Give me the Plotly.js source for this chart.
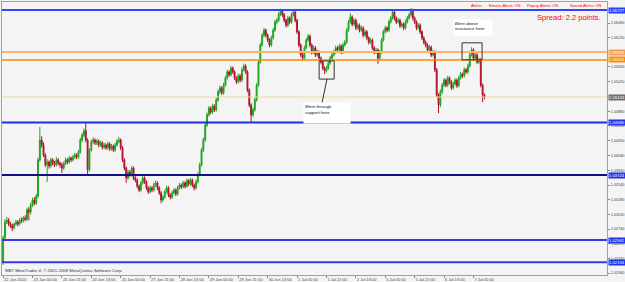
<!DOCTYPE html>
<html><head><meta charset="utf-8">
<script src="https://cdn.plot.ly/plotly-3.0.1.min.js"></script>
<style>html,body{margin:0;padding:0;background:#f4f4f4;}#chart{width:625px;height:282px;}</style>
</head><body><div id="chart"></div>
<script>
// Hourly bars, 22 Jun 2010 13:00 .. 7 Jul 2010
const openPrices = [1.0214,
1.0258,1.0287,1.0290,1.0283,1.0280,1.0276,1.0283,1.0287,1.0283,1.0290,
1.0289,1.0294,1.0292,1.0309,1.0305,1.0318,1.0327,1.0321,1.0334,1.0400,
1.0436,1.0427,1.0409,1.0391,1.0396,1.0389,1.0400,1.0394,1.0391,1.0400,
1.0394,1.0391,1.0385,1.0393,1.0400,1.0396,1.0403,1.0400,1.0405,1.0409,
1.0405,1.0414,1.0436,1.0445,1.0453,1.0436,1.0382,1.0418,1.0433,1.0436,
1.0431,1.0434,1.0427,1.0431,1.0423,1.0427,1.0422,1.0429,1.0420,1.0425,
1.0418,1.0427,1.0434,1.0436,1.0422,1.0400,1.0385,1.0367,1.0378,1.0373,
1.0385,1.0367,1.0363,1.0352,1.0345,1.0358,1.0367,1.0360,1.0349,1.0342,
1.0349,1.0345,1.0354,1.0358,1.0349,1.0340,1.0327,1.0332,1.0342,1.0349,
1.0336,1.0332,1.0340,1.0345,1.0338,1.0349,1.0354,1.0351,1.0358,1.0352,
1.0362,1.0356,1.0363,1.0354,1.0349,1.0360,1.0373,1.0391,1.0418,1.0436,
1.0463,1.0482,1.0494,1.0487,1.0498,1.0491,1.0509,1.0524,1.0531,1.0522,
1.0536,1.0549,1.0560,1.0555,1.0567,1.0560,1.0549,1.0542,1.0553,1.0545,
1.0564,1.0571,1.0560,1.0527,1.0500,1.0482,1.0491,1.0509,1.0536,1.0578,
1.0609,1.0627,1.0636,1.0627,1.0618,1.0609,1.0622,1.0636,1.0651,1.0654,
1.0665,1.0671,1.0664,1.0654,1.0645,1.0658,1.0651,1.0664,1.0669,1.0654,
1.0633,1.0609,1.0591,1.0585,1.0604,1.0618,1.0625,1.0609,1.0596,1.0604,
1.0591,1.0596,1.0585,1.0578,1.0567,1.0562,1.0567,1.0576,1.0585,1.0591,
1.0596,1.0604,1.0600,1.0607,1.0596,1.0609,1.0614,1.0636,1.0651,1.0660,
1.0647,1.0654,1.0640,1.0645,1.0636,1.0640,1.0627,1.0633,1.0622,1.0614,
1.0618,1.0604,1.0596,1.0600,1.0585,1.0596,1.0618,1.0633,1.0640,1.0636,
1.0651,1.0658,1.0669,1.0658,1.0651,1.0654,1.0644,1.0647,1.0640,1.0651,
1.0658,1.0664,1.0673,1.0658,1.0651,1.0640,1.0645,1.0633,1.0622,1.0614,
1.0609,1.0600,1.0605,1.0591,1.0596,1.0564,1.0518,1.0500,1.0524,1.0536,
1.0545,1.0536,1.0549,1.0542,1.0531,1.0538,1.0545,1.0535,1.0549,1.0556,
1.0553,1.0564,1.0560,1.0571,1.0591,1.0600,1.0585,1.0591,1.0578,1.0582,
1.0536,1.0518];
const closePrices = [
1.0258,1.0287,1.0290,1.0283,1.0280,1.0276,1.0283,1.0287,1.0283,1.0290,
1.0289,1.0294,1.0292,1.0309,1.0305,1.0318,1.0327,1.0321,1.0334,1.0400,
1.0436,1.0427,1.0409,1.0391,1.0396,1.0389,1.0400,1.0394,1.0391,1.0400,
1.0394,1.0391,1.0385,1.0393,1.0400,1.0396,1.0403,1.0400,1.0405,1.0409,
1.0405,1.0414,1.0436,1.0445,1.0453,1.0436,1.0382,1.0418,1.0433,1.0436,
1.0431,1.0434,1.0427,1.0431,1.0423,1.0427,1.0422,1.0429,1.0420,1.0425,
1.0418,1.0427,1.0434,1.0436,1.0422,1.0400,1.0385,1.0367,1.0378,1.0373,
1.0385,1.0367,1.0363,1.0352,1.0345,1.0358,1.0367,1.0360,1.0349,1.0342,
1.0349,1.0345,1.0354,1.0358,1.0349,1.0340,1.0327,1.0332,1.0342,1.0349,
1.0336,1.0332,1.0340,1.0345,1.0338,1.0349,1.0354,1.0351,1.0358,1.0352,
1.0362,1.0356,1.0363,1.0354,1.0349,1.0360,1.0373,1.0391,1.0418,1.0436,
1.0463,1.0482,1.0494,1.0487,1.0498,1.0491,1.0509,1.0524,1.0531,1.0522,
1.0536,1.0549,1.0560,1.0555,1.0567,1.0560,1.0549,1.0542,1.0553,1.0545,
1.0564,1.0571,1.0560,1.0527,1.0500,1.0482,1.0491,1.0509,1.0536,1.0578,
1.0609,1.0627,1.0636,1.0627,1.0618,1.0609,1.0622,1.0636,1.0651,1.0654,
1.0665,1.0671,1.0664,1.0654,1.0645,1.0658,1.0651,1.0664,1.0669,1.0654,
1.0633,1.0609,1.0591,1.0585,1.0604,1.0618,1.0625,1.0609,1.0596,1.0604,
1.0591,1.0596,1.0585,1.0578,1.0567,1.0562,1.0567,1.0576,1.0585,1.0591,
1.0596,1.0604,1.0600,1.0607,1.0596,1.0609,1.0614,1.0636,1.0651,1.0660,
1.0647,1.0654,1.0640,1.0645,1.0636,1.0640,1.0627,1.0633,1.0622,1.0614,
1.0618,1.0604,1.0596,1.0600,1.0585,1.0596,1.0618,1.0633,1.0640,1.0636,
1.0651,1.0658,1.0669,1.0658,1.0651,1.0654,1.0644,1.0647,1.0640,1.0651,
1.0658,1.0664,1.0673,1.0658,1.0651,1.0640,1.0645,1.0633,1.0622,1.0614,
1.0609,1.0600,1.0605,1.0591,1.0596,1.0564,1.0518,1.0500,1.0524,1.0536,
1.0545,1.0536,1.0549,1.0542,1.0531,1.0538,1.0545,1.0535,1.0549,1.0556,
1.0553,1.0564,1.0560,1.0571,1.0591,1.0600,1.0585,1.0591,1.0578,1.0582,
1.0536,1.0518,1.0514];
const highPrices = [
1.0262,1.0292,1.0296,1.0294,1.0287,1.0284,1.0286,1.0291,1.0290,1.0294,
1.0295,1.0298,1.0299,1.0313,1.0314,1.0322,1.0331,1.0332,1.0338,1.0404,
1.0460,1.0443,1.0432,1.0412,1.0401,1.0399,1.0404,1.0403,1.0398,1.0405,
1.0403,1.0397,1.0395,1.0397,1.0404,1.0403,1.0407,1.0406,1.0409,1.0413,
1.0412,1.0418,1.0440,1.0449,1.0457,1.0467,1.0439,1.0421,1.0437,1.0441,
1.0439,1.0438,1.0437,1.0435,1.0434,1.0431,1.0430,1.0433,1.0432,1.0429,
1.0428,1.0431,1.0438,1.0442,1.0439,1.0425,1.0403,1.0388,1.0382,1.0381,
1.0389,1.0388,1.0370,1.0366,1.0355,1.0362,1.0371,1.0370,1.0363,1.0352,
1.0353,1.0352,1.0358,1.0362,1.0361,1.0352,1.0343,1.0336,1.0346,1.0353,
1.0352,1.0339,1.0344,1.0349,1.0348,1.0353,1.0358,1.0357,1.0362,1.0361,
1.0366,1.0365,1.0367,1.0366,1.0357,1.0364,1.0377,1.0395,1.0422,1.0440,
1.0467,1.0486,1.0498,1.0497,1.0502,1.0501,1.0513,1.0528,1.0535,1.0534,
1.0540,1.0553,1.0564,1.0563,1.0571,1.0570,1.0563,1.0552,1.0557,1.0556,
1.0568,1.0575,1.0574,1.0563,1.0530,1.0503,1.0495,1.0513,1.0540,1.0582,
1.0613,1.0631,1.0640,1.0639,1.0630,1.0621,1.0626,1.0640,1.0655,1.0658,
1.0669,1.0675,1.0674,1.0667,1.0657,1.0662,1.0661,1.0668,1.0673,1.0672,
1.0657,1.0636,1.0612,1.0595,1.0608,1.0622,1.0629,1.0628,1.0612,1.0608,
1.0607,1.0600,1.0599,1.0588,1.0581,1.0570,1.0571,1.0580,1.0589,1.0595,
1.0600,1.0608,1.0607,1.0611,1.0610,1.0613,1.0618,1.0640,1.0655,1.0667,
1.0663,1.0658,1.0657,1.0649,1.0648,1.0644,1.0643,1.0637,1.0636,1.0625,
1.0622,1.0621,1.0607,1.0604,1.0603,1.0600,1.0622,1.0637,1.0644,1.0643,
1.0655,1.0662,1.0673,1.0672,1.0661,1.0658,1.0657,1.0651,1.0650,1.0655,
1.0662,1.0668,1.0676,1.0675,1.0661,1.0654,1.0649,1.0648,1.0636,1.0625,
1.0617,1.0612,1.0609,1.0608,1.0600,1.0599,1.0567,1.0521,1.0528,1.0540,
1.0549,1.0548,1.0553,1.0552,1.0545,1.0542,1.0549,1.0548,1.0553,1.0560,
1.0559,1.0568,1.0567,1.0575,1.0595,1.0605,1.0603,1.0595,1.0594,1.0586,
1.0585,1.0539,1.0521];
const lowPrices = [
1.0209,1.0254,1.0283,1.0279,1.0276,1.0270,1.0273,1.0280,1.0279,1.0281,
1.0285,1.0286,1.0288,1.0289,1.0290,1.0301,1.0314,1.0317,1.0318,1.0330,
1.0396,1.0422,1.0405,1.0387,1.0360,1.0384,1.0386,1.0390,1.0387,1.0388,
1.0390,1.0386,1.0376,1.0382,1.0390,1.0392,1.0393,1.0396,1.0397,1.0402,
1.0401,1.0402,1.0411,1.0432,1.0441,1.0432,1.0374,1.0379,1.0415,1.0429,
1.0427,1.0427,1.0423,1.0424,1.0419,1.0420,1.0418,1.0419,1.0416,1.0417,
1.0414,1.0415,1.0424,1.0430,1.0418,1.0396,1.0381,1.0358,1.0364,1.0369,
1.0370,1.0363,1.0359,1.0348,1.0341,1.0342,1.0355,1.0356,1.0345,1.0338,
1.0339,1.0341,1.0342,1.0351,1.0345,1.0336,1.0321,1.0324,1.0329,1.0339,
1.0332,1.0328,1.0329,1.0337,1.0334,1.0335,1.0346,1.0347,1.0348,1.0348,
1.0349,1.0352,1.0353,1.0350,1.0344,1.0346,1.0357,1.0370,1.0388,1.0414,
1.0433,1.0460,1.0479,1.0483,1.0484,1.0487,1.0488,1.0506,1.0520,1.0518,
1.0519,1.0533,1.0546,1.0551,1.0552,1.0556,1.0545,1.0538,1.0539,1.0541,
1.0542,1.0561,1.0556,1.0523,1.0496,1.0469,1.0478,1.0488,1.0506,1.0533,
1.0575,1.0606,1.0623,1.0623,1.0614,1.0605,1.0606,1.0619,1.0633,1.0647,
1.0651,1.0662,1.0660,1.0650,1.0641,1.0642,1.0647,1.0648,1.0661,1.0650,
1.0629,1.0605,1.0587,1.0580,1.0582,1.0601,1.0615,1.0605,1.0592,1.0593,
1.0587,1.0588,1.0581,1.0574,1.0563,1.0556,1.0559,1.0564,1.0573,1.0582,
1.0588,1.0593,1.0596,1.0597,1.0592,1.0593,1.0606,1.0611,1.0633,1.0648,
1.0643,1.0644,1.0636,1.0637,1.0632,1.0633,1.0623,1.0624,1.0618,1.0610,
1.0611,1.0600,1.0592,1.0593,1.0575,1.0582,1.0593,1.0615,1.0630,1.0632,
1.0633,1.0648,1.0655,1.0654,1.0647,1.0648,1.0640,1.0641,1.0636,1.0637,
1.0648,1.0655,1.0661,1.0654,1.0647,1.0636,1.0637,1.0629,1.0618,1.0610,
1.0605,1.0596,1.0597,1.0587,1.0588,1.0560,1.0514,1.0485,1.0496,1.0520,
1.0533,1.0532,1.0533,1.0538,1.0527,1.0528,1.0535,1.0531,1.0532,1.0546,
1.0549,1.0550,1.0556,1.0557,1.0568,1.0588,1.0581,1.0582,1.0574,1.0575,
1.0532,1.0505,1.0510];

const timeTickBars = [0,16,32,48,64,80,96,112,128,144,160,176,192,208,224,240,256];
const timeTickLabels = ['22 Jun 2010','23 Jun 05:00','23 Jun 21:00','24 Jun 13:00','25 Jun 05:00',
  '27 Jun 21:00','28 Jun 13:00','29 Jun 05:00','29 Jun 21:00','30 Jun 13:00','1 Jul 05:00',
  '1 Jul 21:00','2 Jul 13:00','5 Jul 05:00','5 Jul 21:00','6 Jul 13:00','7 Jul 05:00'];
const priceTicks = [1.0194,1.0220,1.0247,1.0274,1.0301,1.0328,1.0354,1.0381,1.0408,1.0435,
  1.0462,1.0488,1.0542,1.0569,1.0622,1.0649];
const priceTickLabels = ['1.01940','1.02200','1.02470','1.02740','1.03010','1.03280','1.03540','1.03810',
  '1.04080','1.04350','1.04620','1.04880','1.05420','1.05690','1.06220','1.06490'];

// horizontal levels drawn on the chart
const levelPrices = [1.06727, 1.05963, 1.05818, 1.04680, 1.03724, 1.02541, 1.02134];
const levelColors = ['#3344ff','#ffb366','#ff8a00','#1f2fe0','#10108a','#3838ea','#3838ea'];
const levelLabelBg = ['#2b3bff','#f5a04e','#ff8a00','#2233ee','#2233ee','#2233ee','#2233ee'];
const levelWidths = [2, 2.2, 1.6, 1.8, 1.8, 2, 2];
const bidPrice = 1.05143;

const barIndex = openPrices.map((_, i) => i);

const trace = {
  type: 'candlestick', x: barIndex,
  open: openPrices, high: highPrices, low: lowPrices, close: closePrices,
  increasing: {line: {color: '#1fa51f', width: 1}, fillcolor: '#1fa51f'},
  decreasing: {line: {color: '#b0122c', width: 1}, fillcolor: '#b0122c'},
  whiskerwidth: 0, hoverinfo: 'none'
};

const fontFam = 'Liberation Sans, Arial, sans-serif';
const shapes = [];
const annotations = [];
levelPrices.forEach((p, k) => {
  shapes.push({type: 'line', xref: 'paper', x0: 0, x1: 1, yref: 'y', y0: p, y1: p,
    line: {color: levelColors[k], width: levelWidths[k]}});
  annotations.push({xref: 'paper', x: 1, xanchor: 'left', xshift: 1, yref: 'y', y: p,
    text: p.toFixed(5), showarrow: false, bgcolor: levelLabelBg[k], borderpad: 0,
    font: {size: 4.2, color: '#ffffff', family: fontFam}});
});
shapes.push({type: 'line', xref: 'paper', x0: 0, x1: 1, yref: 'y', y0: bidPrice, y1: bidPrice,
  line: {color: '#f0dc86', width: 1}});
annotations.push({xref: 'paper', x: 1, xanchor: 'left', xshift: 1, yref: 'y', y: bidPrice,
  text: bidPrice.toFixed(5), showarrow: false, bgcolor: '#6e6e6e', borderpad: 0,
  font: {size: 4.2, color: '#ffffff', family: fontFam}});

// marked regions
shapes.push({type: 'rect', xref: 'x', yref: 'y', x0: 172, x1: 180.2, y0: 1.0547, y1: 1.0580,
  line: {color: '#333333', width: 1}});
shapes.push({type: 'line', xref: 'x', yref: 'y', x0: 176.3, y0: 1.0547, x1: 173.6, y1: 1.0504,
  line: {color: '#333333', width: 1}});
shapes.push({type: 'rect', xref: 'x', yref: 'y', x0: 249.8, x1: 260.7, y0: 1.0582, y1: 1.0613,
  line: {color: '#333333', width: 1}});

const px = v => (v - 2) / 605;
const py = v => (275 - v) / 273;
annotations.push({xref: 'paper', yref: 'paper', x: px(303), y: py(102), xanchor: 'left', yanchor: 'top',
  width: 44, height: 18, align: 'left', valign: 'top', bgcolor: '#ffffff', borderpad: 1,
  text: 'Went through<br>support here', showarrow: false, font: {size: 4.4, color: '#111', family: fontFam}});
annotations.push({xref: 'paper', yref: 'paper', x: px(453), y: py(19), xanchor: 'left', yanchor: 'top',
  width: 37, height: 14, align: 'left', valign: 'top', bgcolor: '#ffffff', borderpad: 0.5,
  text: 'Went above<br>resistance here', showarrow: false, font: {size: 4.4, color: '#111', family: fontFam}});

// header texts
const alertParts = [['Alerts:', 469], ['Emails Alerts ON', 487], ['Popup Alerts ON', 525], ['Sound Alerts ON', 568]];
alertParts.forEach(([t, x]) => annotations.push({xref: 'paper', yref: 'paper', x: px(x), y: py(6),
  xanchor: 'left', yanchor: 'middle', text: t, showarrow: false,
  font: {size: 4.2, color: '#ff0000', family: fontFam}}));
annotations.push({xref: 'paper', yref: 'paper', x: px(603), y: py(17), xanchor: 'right', yanchor: 'middle',
  text: 'Spread: 2.2 points.', showarrow: false, font: {size: 7.6, color: '#ff0000', family: fontFam}});
annotations.push({xref: 'paper', yref: 'paper', x: px(3), y: py(270), xanchor: 'left', yanchor: 'middle',
  text: 'MBT MetaTrader 4, © 2001-2008 MetaQuotes Software Corp.', showarrow: false,
  font: {size: 4.3, color: '#333', family: fontFam}});

const layout = {
  width: 625, height: 282, autosize: false,
  margin: {l: 2, r: 18, t: 2, b: 7, pad: 0},
  paper_bgcolor: '#f4f4f4', plot_bgcolor: '#f4f4f4', showlegend: false,
  xaxis: {range: [-0.6, 328.7], rangeslider: {visible: false}, showgrid: false, zeroline: false,
    showline: true, mirror: true, linecolor: '#a0a0a0', linewidth: 1,
    tickmode: 'array', tickvals: timeTickBars, ticktext: timeTickLabels, tickangle: 0,
    ticks: 'outside', ticklen: 1.5, tickcolor: '#888', ticklabelposition: 'outside right',
    ticklabelstandoff: 0,
    tickfont: {size: 4, color: '#444', family: fontFam}, fixedrange: true},
  yaxis: {range: [1.01904, 1.06873], side: 'right', showgrid: false, zeroline: false,
    showline: true, mirror: true, linecolor: '#a0a0a0', linewidth: 1,
    tickmode: 'array', tickvals: priceTicks, ticktext: priceTickLabels,
    ticks: 'outside', ticklen: 2, tickcolor: '#888',
    tickfont: {size: 3.8, color: '#444', family: fontFam}, fixedrange: true},
  shapes: shapes, annotations: annotations
};

Plotly.newPlot('chart', [trace], layout, {staticPlot: true, displayModeBar: false});
</script>
</body></html>
